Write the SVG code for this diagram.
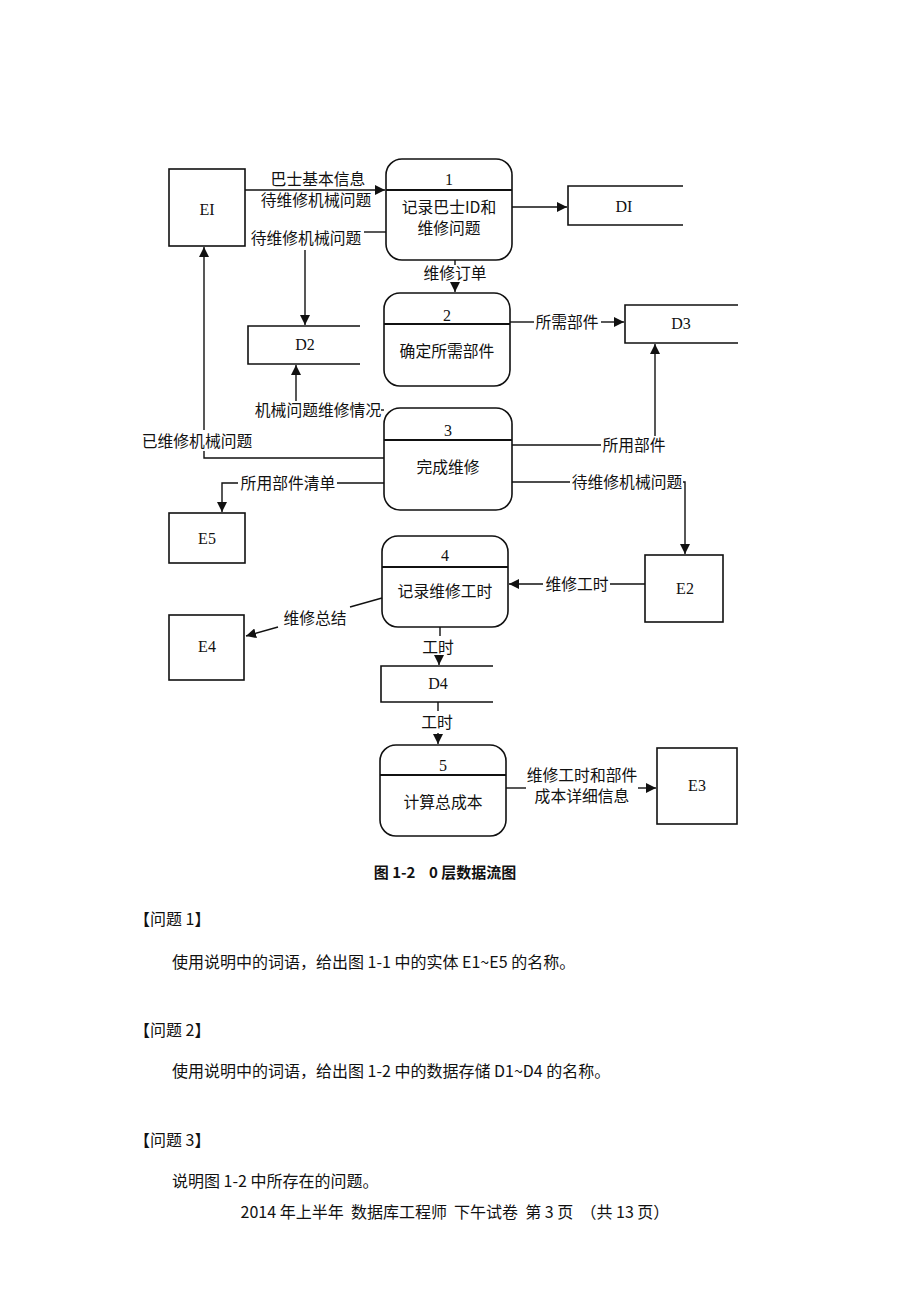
<svg xmlns="http://www.w3.org/2000/svg" width="920" height="1302" viewBox="0 0 920 1302">
<style>
.box{fill:#fff;stroke:#111;stroke-width:1.6}
.proc{fill:#fff;stroke:#111;stroke-width:1.6}
.div{stroke:#111;stroke-width:2.2}
.ds{fill:none;stroke:#111;stroke-width:1.6}
.ln{fill:none;stroke:#111;stroke-width:1.4}
.ser{font-family:"Liberation Serif",serif;font-size:16px;fill:#111}
.cn{font-family:"Noto Sans CJK SC",sans-serif;font-size:15.8px;fill:#111}
.body{font-family:"Noto Sans CJK SC",sans-serif;font-size:16px;fill:#111;white-space:pre}
</style>
<defs>
<marker id="ah" viewBox="0 0 10 10" refX="10" refY="5" markerWidth="10" markerHeight="10" markerUnits="userSpaceOnUse" orient="auto">
<path d="M0,0 L10,5 L0,10 z" fill="#111"/>
</marker>
</defs>
<rect width="920" height="1302" fill="#fff"/>

<g id="E1"><rect class="box" x="169" y="169" width="76" height="77"/><text class="ser" x="207" y="215" text-anchor="middle">EI</text></g>
<g id="E5"><rect class="box" x="169" y="513" width="76" height="50"/><text class="ser" x="207" y="544" text-anchor="middle">E5</text></g>
<g id="E4"><rect class="box" x="169" y="615" width="75" height="65"/><text class="ser" x="207" y="652" text-anchor="middle">E4</text></g>
<g id="E2"><rect class="box" x="645" y="555" width="78" height="67"/><text class="ser" x="685" y="594" text-anchor="middle">E2</text></g>
<g id="E3"><rect class="box" x="657" y="748" width="80" height="76"/><text class="ser" x="697" y="791" text-anchor="middle">E3</text></g>

<g id="P1"><rect class="proc" x="386" y="159" width="126" height="101" rx="16"/><line class="div" x1="386" y1="190" x2="512" y2="190"/>
<text class="ser" x="449" y="185" text-anchor="middle">1</text>
<text class="cn" x="449" y="213" text-anchor="middle">记录巴士ID和</text>
<text class="cn" x="449" y="234" text-anchor="middle">维修问题</text></g>
<g id="P2"><rect class="proc" x="384" y="293" width="126" height="93" rx="16"/><line class="div" x1="384" y1="324" x2="510" y2="324"/>
<text class="ser" x="447" y="321" text-anchor="middle">2</text>
<text class="cn" x="447" y="357" text-anchor="middle">确定所需部件</text></g>
<g id="P3"><rect class="proc" x="384" y="408" width="128" height="102" rx="16"/><line class="div" x1="384" y1="440" x2="512" y2="440"/>
<text class="ser" x="448" y="436" text-anchor="middle">3</text>
<text class="cn" x="448" y="473" text-anchor="middle">完成维修</text></g>
<g id="P4"><rect class="proc" x="382" y="536" width="126" height="91" rx="16"/><line class="div" x1="382" y1="567" x2="508" y2="567"/>
<text class="ser" x="445" y="561" text-anchor="middle">4</text>
<text class="cn" x="445" y="597" text-anchor="middle">记录维修工时</text></g>
<g id="P5"><rect class="proc" x="380" y="745" width="126" height="91" rx="16"/><line class="div" x1="380" y1="775" x2="506" y2="775"/>
<text class="ser" x="443" y="771" text-anchor="middle">5</text>
<text class="cn" x="443" y="808" text-anchor="middle">计算总成本</text></g>

<g id="D1"><path class="ds" d="M683,186 H568 V225 H683"/><text class="ser" x="624" y="212" text-anchor="middle">DI</text></g>
<g id="D2"><path class="ds" d="M360,326 H248 V364 H360"/><text class="ser" x="305" y="350" text-anchor="middle">D2</text></g>
<g id="D3"><path class="ds" d="M738,305 H625 V343 H738"/><text class="ser" x="681" y="329" text-anchor="middle">D3</text></g>
<g id="D4"><path class="ds" d="M493,666 H381 V702 H493"/><text class="ser" x="438" y="689" text-anchor="middle">D4</text></g>

<g id="connectors">
<line class="ln" x1="245" y1="190" x2="385" y2="190" marker-end="url(#ah)"/>
<text class="cn" x="318" y="185" text-anchor="middle">巴士基本信息</text>
<text class="cn" x="316" y="206" text-anchor="middle">待维修机械问题</text>

<line class="ln" x1="386" y1="232" x2="364" y2="232"/>
<text class="cn" x="306" y="244" text-anchor="middle">待维修机械问题</text>
<line class="ln" x1="305" y1="250" x2="305" y2="325" marker-end="url(#ah)"/>

<line class="ln" x1="512" y1="207" x2="567" y2="207" marker-end="url(#ah)"/>

<line class="ln" x1="455" y1="260" x2="455" y2="265"/>
<text class="cn" x="455" y="279" text-anchor="middle">维修订单</text>
<line class="ln" x1="455" y1="283" x2="455" y2="292" marker-end="url(#ah)"/>

<line class="ln" x1="510" y1="322" x2="534" y2="322"/>
<text class="cn" x="567" y="328" text-anchor="middle">所需部件</text>
<line class="ln" x1="601" y1="322" x2="624" y2="322" marker-end="url(#ah)"/>

<line class="ln" x1="384" y1="410" x2="381" y2="410"/>
<text class="cn" x="318" y="416" text-anchor="middle">机械问题维修情况</text>
<line class="ln" x1="296" y1="401" x2="296" y2="365" marker-end="url(#ah)"/>

<polyline class="ln" points="384,458 204,458 204,451"/>
<text class="cn" x="197" y="447" text-anchor="middle">已维修机械问题</text>
<line class="ln" x1="204" y1="430" x2="204" y2="247" marker-end="url(#ah)"/>

<line class="ln" x1="512" y1="445" x2="601" y2="445"/>
<text class="cn" x="634" y="451" text-anchor="middle">所用部件</text>
<line class="ln" x1="655" y1="436" x2="655" y2="344" marker-end="url(#ah)"/>

<line class="ln" x1="384" y1="483" x2="337" y2="483"/>
<text class="cn" x="288" y="489" text-anchor="middle">所用部件清单</text>
<polyline class="ln" points="238,483 222,483 222,512" marker-end="url(#ah)"/>

<line class="ln" x1="512" y1="482" x2="570" y2="482"/>
<text class="cn" x="627" y="488" text-anchor="middle">待维修机械问题</text>
<polyline class="ln" points="683,482 685,482 685,554" marker-end="url(#ah)"/>

<line class="ln" x1="645" y1="584" x2="610" y2="584"/>
<text class="cn" x="577" y="590" text-anchor="middle">维修工时</text>
<line class="ln" x1="543" y1="584" x2="509" y2="584" marker-end="url(#ah)"/>

<line class="ln" x1="382" y1="598" x2="350" y2="607"/>
<text class="cn" x="315" y="624" text-anchor="middle">维修总结</text>
<line class="ln" x1="278" y1="627" x2="246" y2="636" marker-end="url(#ah)"/>

<line class="ln" x1="440" y1="627" x2="440" y2="636"/>
<text class="cn" x="438" y="653" text-anchor="middle">工时</text>
<line class="ln" x1="439" y1="657" x2="439" y2="665" marker-end="url(#ah)"/>

<line class="ln" x1="438" y1="702" x2="438" y2="711"/>
<text class="cn" x="437" y="728" text-anchor="middle">工时</text>
<line class="ln" x1="438" y1="733" x2="438" y2="744" marker-end="url(#ah)"/>

<line class="ln" x1="506" y1="788" x2="526" y2="788"/>
<text class="cn" x="582" y="781" text-anchor="middle">维修工时和部件</text>
<text class="cn" x="582" y="802" text-anchor="middle">成本详细信息</text>
<line class="ln" x1="638" y1="788" x2="656" y2="788" marker-end="url(#ah)"/>
</g>

<text x="445" y="878" text-anchor="middle" xml:space="preserve" style="white-space:pre" font-family="Noto Sans CJK SC,sans-serif" font-size="15" font-weight="bold" fill="#111">图 1-2    0 层数据流图</text>

<text class="body" x="134" y="925">【问题 1】</text>
<text class="body" x="172" y="968">使用说明中的词语，给出图 1-1 中的实体 E1~E5 的名称。</text>
<text class="body" x="134" y="1036">【问题 2】</text>
<text class="body" x="172" y="1077">使用说明中的词语，给出图 1-2 中的数据存储 D1~D4 的名称。</text>
<text class="body" x="134" y="1146">【问题 3】</text>
<text class="body" x="172" y="1187">说明图 1-2 中所存在的问题。</text>
<text class="body" x="455" y="1218" text-anchor="middle" xml:space="preserve">2014 年上半年  数据库工程师  下午试卷  第 3 页  （共 13 页）</text>
</svg>
